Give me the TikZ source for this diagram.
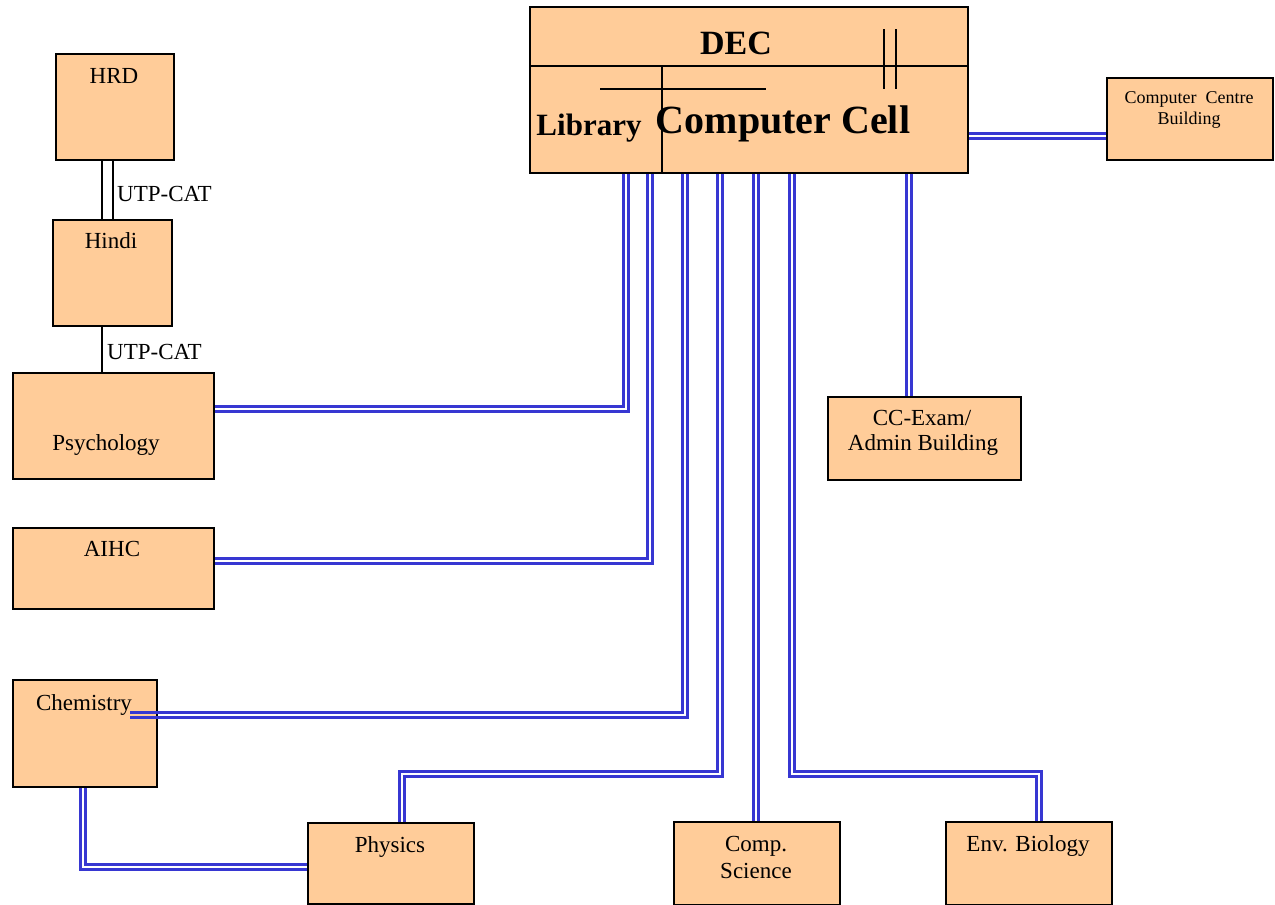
\documentclass[tikz,border=0pt]{standalone}
\usepackage{fontspec}
\setmainfont{Liberation Serif}
\usetikzlibrary{backgrounds}
\definecolor{peach}{RGB}{255,204,153}
\definecolor{netblue}{RGB}{55,55,210}
\begin{document}
\begin{tikzpicture}[x=1pt,y=-1pt,
  box/.style={draw=black,line width=1.6pt,fill=peach,rectangle,inner sep=0pt,anchor=north west},
  lbl/.style={inner sep=0pt,anchor=base,font=\fontsize{23}{27}\selectfont},
  dbl/.style={draw=white,line width=2.8pt,preaction={draw=netblue,line width=7.8pt}},
  utp/.style={draw=black,line width=1.4pt},
  inner/.style={draw=black,line width=1.6pt}]
\useasboundingbox (0,0) rectangle (1275,905);
% boxes
\node[box,minimum width=438pt,minimum height=166pt] (dec) at (529,6) {};
\node[box,minimum width=201pt,minimum height=106pt] (psy) at (12,372) {};
\node[box,minimum width=201pt,minimum height=81pt] (aihc) at (12,527) {};
\node[box,minimum width=144pt,minimum height=107pt] (chem) at (12,679) {};
\node[box,minimum width=166pt,minimum height=81pt] (phys) at (307,822) {};
\node[box,minimum width=166pt,minimum height=83pt] (comp) at (673,821) {};
\node[box,minimum width=166pt,minimum height=83pt] (env) at (945,821) {};
\node[box,minimum width=193pt,minimum height=83pt] (exam) at (827,396) {};
\node[box,minimum width=166pt,minimum height=82pt] (ccb) at (1106,77) {};
\node[box,minimum width=118pt,minimum height=106pt] (hrd) at (55,53) {};
\node[box,minimum width=119pt,minimum height=106pt] (hindi) at (52,219) {};
% DEC inner lines
\draw[inner] (dec.west |- 0,66) -- (dec.east |- 0,66);
\draw[inner] (662,66) -- (dec.south -| 662,0);
\draw[inner] (600,89) -- (766,89);
\draw[inner] (884,29) -- (884,89);
\draw[inner] (896,29) -- (896,89);
% DEC texts
\node[inner sep=0pt,anchor=base,font=\fontsize{34}{40}\selectfont\bfseries] (dect) at (736,54) {DEC};
\node[inner sep=0pt,anchor=base,font=\fontsize{31}{36}\selectfont\bfseries] (libt) at (589,135) {Library};
\node[inner sep=0pt,anchor=base,font=\fontsize{40}{46}\selectfont\bfseries] (cct) at (783,133) {Computer Cell};
% labels
\node[lbl] (hrdt) at (114,83) {HRD};
\node[lbl] (hindit) at (111,248) {Hindi};
\node[lbl] (psyt) at (106,450) {Psychology};
\node[lbl] (aihct) at (112,556) {AIHC};
\node[lbl] (chemt) at (84,710) {Chemistry};
\node[lbl] (physt) at (390,852) {Physics};
\node[lbl] (compt1) at (756,851) {Comp.};
\node[lbl] (compt2) at (756,878) {Science};
\node[lbl] (envt) at (1028,851) {Env. Biology};
\node[lbl] (examt1) at (922,425) {CC-Exam/};
\node[lbl] (examt2) at (923,450) {Admin Building};
\node[inner sep=0pt,anchor=base,font=\fontsize{18}{21}\selectfont] (ccbt1) at (1189,103) {Computer\ \ Centre};
\node[inner sep=0pt,anchor=base,font=\fontsize{18}{21}\selectfont] (ccbt2) at (1189,124) {Building};
\node[lbl,anchor=base west] (utp1) at (117,201) {UTP-CAT};
\node[lbl,anchor=base west] (utp2) at (107,359) {UTP-CAT};
% connectors
\begin{pgfonlayer}{background}
\draw[dbl] (dec.south -| 626,0) |- (psy.east |- 0,409);
\draw[dbl] (dec.south -| 650,0) |- (aihc.east |- 0,561);
\draw[dbl] (dec.south -| 685,0) |- (chem.east |- 0,715);
\draw[dbl] (chem.south -| 83,0) |- (phys.west |- 0,867);
\draw[dbl] (phys.north -| 402,0) -- (402,774) -| (dec.south -| 720,0);
\draw[dbl] (dec.south -| 756,0) -- (comp.north -| 756,0);
\draw[dbl] (env.north -| 1039,0) -- (1039,774) -| (dec.south -| 792,0);
\draw[dbl] (dec.south -| 909,0) -- (exam.north -| 909,0);
\draw[dbl] (dec.east |- 0,136) -- (ccb.west |- 0,136);
\draw[utp] (hrd.south -| 102,0) -- (hindi.north -| 102,0);
\draw[utp] (hrd.south -| 113,0) -- (hindi.north -| 113,0);
\draw[utp] (hindi.south -| 102,0) -- (psy.north -| 102,0);
\end{pgfonlayer}
% chemistry connector continues inside its box
\draw[draw=netblue,line width=2.5pt] (chem.east |- 0,712.35) -- (130,712.35);
\draw[draw=netblue,line width=2.5pt] (chem.east |- 0,717.65) -- (130,717.65);
\end{tikzpicture}
\end{document}
